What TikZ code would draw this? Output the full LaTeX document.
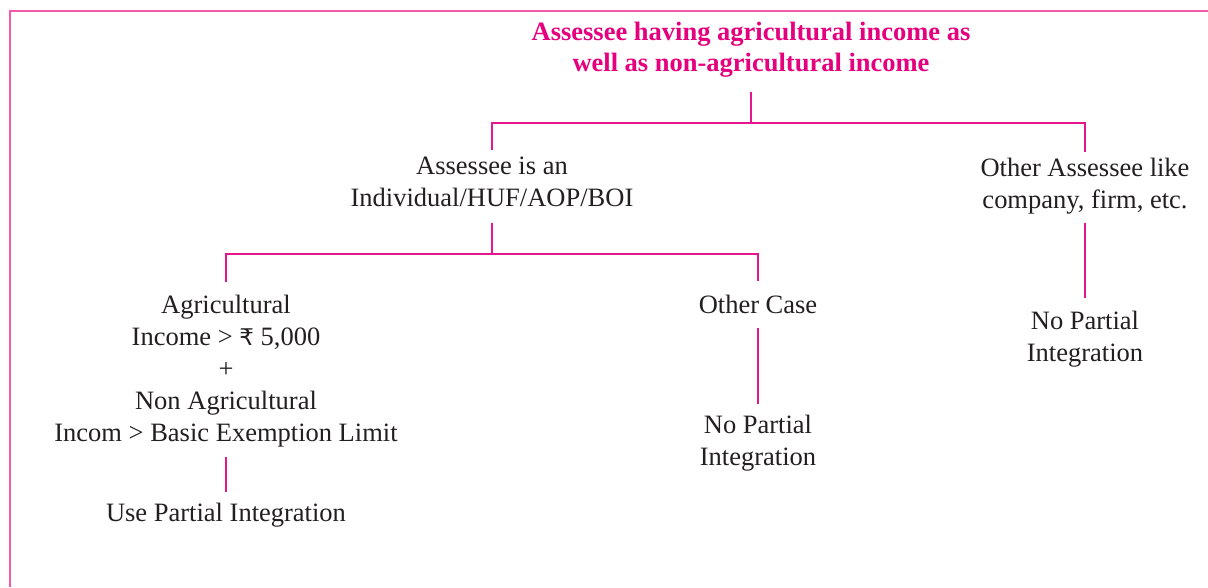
\documentclass[tikz,border=0pt]{standalone}
\usepackage{fontspec}
\setmainfont{Liberation Serif}
\newfontfamily\rupeefont{DejaVu Sans}
\definecolor{ink}{HTML}{231F20}
\definecolor{pinkt}{HTML}{E5007D}
\definecolor{linkc}{HTML}{E6168C}
\definecolor{framec}{HTML}{F25AAE}
\begin{document}
\begin{tikzpicture}[x=1pt,y=-1pt,
  txt/.style={font=\fontsize{26.5}{32}\selectfont, text=ink, align=center, inner sep=0pt, anchor=base},
  ttl/.style={font=\fontsize{26.5}{31.5}\selectfont\bfseries, text=pinkt, align=center, inner sep=0pt, anchor=base},
  link/.style={draw=linkc, line width=2pt},
  frame/.style={draw=framec, line width=2pt}]
\useasboundingbox (0,0) rectangle (1208,587);
\draw[frame] (1208,11) -- (10,11) -- (10,587);
\node[ttl] (title) at (751,71.5) {Assessee having agricultural income as\\well as non-agricultural income};
\node[txt] (nA) at (492,206) {Assessee is an\\Individual/HUF/AOP/BOI};
\node[txt] (nB) at (1085,208) {Other Assessee like\\company, firm, etc.};
\node[txt] (nC) at (226,441) {Agricultural\\Income > {\rupeefont\fontsize{23}{32}\selectfont ₹} 5,000\\+\\Non Agricultural\\Incom > Basic Exemption Limit};
\node[txt] (nD) at (758,313) {Other Case};
\node[txt] (nF) at (226,521.7) {Use Partial Integration};
\node[txt] (nG) at (758,465) {No Partial\\Integration};
\node[txt] (nE) at (1085,361) {No Partial\\Integration};
\coordinate (h1) at (751,122.5);
\coordinate (h2) at (492,254);
\draw[link] ([yshift=-14.7pt]title.south) -- (title.south |- h1);
\draw[link] ([yshift=6pt]nA.north) |- (h1) -| ([yshift=5.5pt]nB.north);
\draw[link] ([yshift=-16.6pt]nA.south) -- (nA.south |- h2);
\draw[link] ([yshift=12pt]nC.north) |- (h2) -| ([yshift=13pt]nD.north);
\draw[link] ([yshift=-10.2pt]nC.south) -- ([yshift=11.6pt]nF.north);
\draw[link] ([yshift=-14.7pt]nD.south) -- ([yshift=10pt]nG.north);
\draw[link] ([yshift=-9pt]nB.south) -- ([yshift=12.7pt]nE.north);
\end{tikzpicture}
\end{document}
